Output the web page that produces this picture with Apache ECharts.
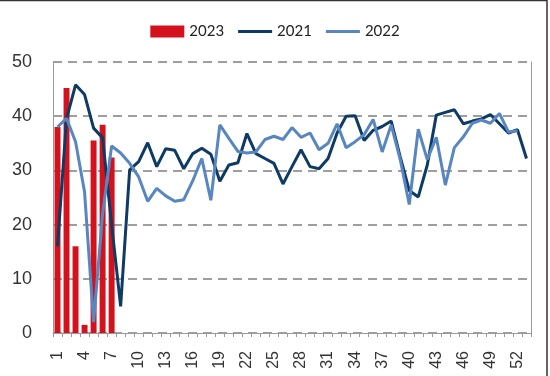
<!DOCTYPE html>
<html>
<head>
<meta charset="utf-8">
<script src="https://cdn.jsdelivr.net/npm/echarts@6/dist/echarts.min.js"></script>
<style>
  html, body { margin: 0; padding: 0; background: #fff; }
  #chart { width: 550px; height: 376px; }
</style>
</head>
<body>
<div id="chart"></div>
<script>
// week numbers on the x axis (53 slots, label every 3rd)
var weeks = ['1','2','3','4','5','6','7','8','9','10','11','12','13','14','15','16','17','18','19','20',
  '21','22','23','24','25','26','27','28','29','30','31','32','33','34','35','36','37','38','39','40',
  '41','42','43','44','45','46','47','48','49','50','51','52','53'];

var values2023 = [38.0, 45.2, 16.0, 1.5, 35.5, 38.4, 32.4];

var values2021 = [16.0, 39.5, 45.8, 44.0, 37.8, 36.0, 20.0, 4.9, 30.1, 31.6,
  35.1, 30.7, 34.0, 33.7, 30.3, 33.1, 34.1, 33.0, 28.0, 31.0,
  31.4, 36.8, 33.1, 32.2, 31.3, 27.5, 30.7, 33.8, 30.7, 30.3,
  32.2, 36.9, 40.0, 40.1, 35.5, 37.4, 38.1, 39.1, 32.5, 26.3,
  25.1, 31.0, 40.2, 40.7, 41.2, 38.6, 39.1, 39.5, 40.3, 38.6,
  36.9, 37.5, 32.2];

var values2022 = [38.0, 39.6, 35.3, 26.0, 2.0, 22.0, 34.5, 33.2, 31.3, 28.8,
  24.3, 26.7, 25.3, 24.3, 24.6, 28.1, 32.2, 24.5, 38.4, 35.9,
  33.5, 33.2, 33.4, 35.7, 36.3, 35.7, 37.9, 36.1, 36.9, 33.8,
  35.0, 38.6, 34.2, 35.3, 36.6, 39.4, 33.4, 38.4, 32.0, 23.7,
  37.6, 32.0, 36.1, 27.3, 34.2, 36.2, 38.7, 39.3, 38.7, 40.5,
  37.1, 37.3];

// thin line legend icon inside the 34x12 legend box
var lineIcon = 'path://M0,0L0.01,0L0.01,12L0,12ZM0,4.6L34,4.6L34,7.4L0,7.4Z';

var myChart = echarts.init(document.getElementById('chart'), null, { renderer: 'canvas' });

var option = {
  animation: false,
  backgroundColor: '#fff',
  textStyle: { fontFamily: 'Liberation Sans' },
  legend: {
    top: 19,
    left: 'center',
    itemWidth: 34,
    itemHeight: 12,
    itemGap: 14,
    textStyle: { fontFamily: 'Lato', fontSize: 15, color: '#222' },
    data: [
      { name: '2023', icon: 'rect' },
      { name: '2021', icon: lineIcon, itemStyle: { borderWidth: 0 } },
      { name: '2022', icon: lineIcon, itemStyle: { borderWidth: 0 } }
    ]
  },
  grid: {
    left: 53, right: 19, top: 62, bottom: 43,
    containLabel: false,
    outerBoundsMode: 'none'
  },
  xAxis: {
    type: 'category',
    data: weeks,
    boundaryGap: true,
    axisLine: { lineStyle: { color: '#9a9a9a', width: 1 } },
    axisTick: { show: true, interval: 0, length: 4, lineStyle: { color: '#9a9a9a' } },
    axisLabel: { interval: 2, rotate: 90, margin: 18, fontSize: 16, color: '#333' },
    splitLine: { show: false }
  },
  yAxis: [{
    type: 'value',
    min: 0, max: 50, interval: 10,
    axisLine: { show: true, lineStyle: { color: '#9a9a9a' } },
    axisTick: { show: false },
    axisLabel: { fontSize: 18, color: '#333', margin: 21 },
    splitLine: { lineStyle: { color: '#7f7f7f', width: 1.5, type: [9, 6] } }
  }, {
    type: 'value',
    position: 'right',
    min: 0, max: 50, interval: 10,
    axisLine: { show: true, lineStyle: { color: '#9a9a9a' } },
    axisTick: { show: false },
    axisLabel: { show: false },
    splitLine: { show: false }
  }],
  series: [
    {
      name: '2023',
      type: 'bar',
      data: values2023,
      barWidth: '66%',
      itemStyle: { color: '#d3121d' }
    },
    {
      name: '2021',
      type: 'line',
      data: values2021,
      symbol: 'none',
      lineStyle: { color: '#0e3a66', width: 3 },
      itemStyle: { color: '#0e3a66' }
    },
    {
      name: '2022',
      type: 'line',
      data: values2022,
      symbol: 'none',
      lineStyle: { color: '#5886c0', width: 3 },
      itemStyle: { color: '#5886c0' }
    }
  ],
  graphic: [
    { type: 'line', shape: { x1: 0, y1: 0.5, x2: 547, y2: 0.5 }, style: { stroke: '#333', lineWidth: 1.5 } },
    { type: 'line', shape: { x1: 547, y1: 0, x2: 547, y2: 376 }, style: { stroke: '#333', lineWidth: 1.5 } }
  ]
};

myChart.setOption(option);
</script>
</body>
</html>
